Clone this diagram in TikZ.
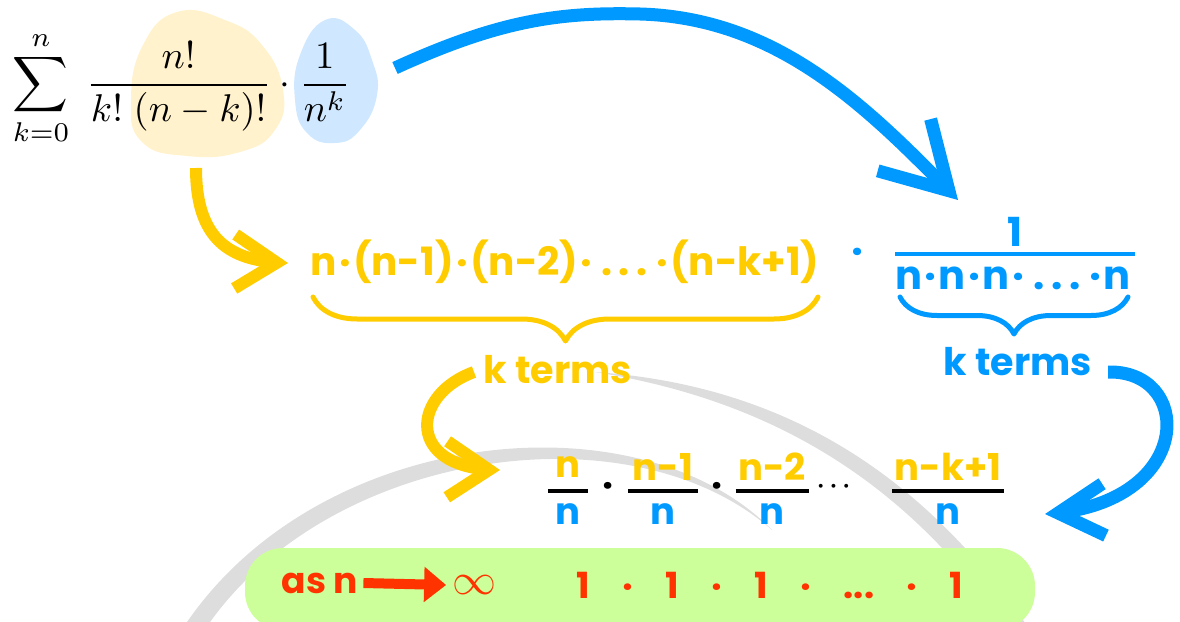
\documentclass[tikz,border=0pt]{standalone}
\usepackage[no-math]{fontspec}
\setmainfont{Poppins}
\usepackage{amsmath}
\usetikzlibrary{arrows.meta,bending,decorations.pathreplacing,positioning}

\definecolor{gelb}{RGB}{255,204,0}
\definecolor{blau}{RGB}{0,153,255}
\definecolor{rot}{RGB}{255,51,0}
\definecolor{hellgruen}{RGB}{204,255,153}
\definecolor{hellgelb}{RGB}{255,242,204}
\definecolor{hellblau}{RGB}{207,232,255}
\definecolor{bogengrau}{RGB}{221,221,221}

\newcommand{\md}{\hspace{0.06em}·\hspace{0.06em}}

\begin{document}
\begin{tikzpicture}[x=1pt, y=-1pt,
		gelbtext/.style={text=gelb, inner sep=0pt, font=\bfseries\fontsize{39}{45}\selectfont},
		blautext/.style={text=blau, inner sep=0pt, font=\bfseries\fontsize{40}{46}\selectfont},
		bruchtext/.style={inner sep=0pt, font=\bfseries\fontsize{37}{42}\selectfont},
		rottext/.style={text=rot, inner sep=0pt, font=\bfseries\fontsize{36}{42}\selectfont},
		klammer/.style={decorate, decoration={brace, mirror, amplitude=#1}, line width=5pt, line cap=round, line join=round},
		pfeil/.style={line width=13pt},
		kasten/.style={fill=hellgruen, rounded corners=38pt, minimum width=790pt, minimum height=82pt, inner sep=0pt}]
	%Bildbereich
	\path[use as bounding box, clip] (0,0) rectangle (1180,621);
	%graue Boegen
	\fill[bogengrau] (185,625) .. controls (320,425) and (640,395) .. (772,530) .. controls (630,405) and (330,450) .. (208,625) -- cycle;
	\fill[bogengrau] (595,372) .. controls (780,385) and (920,470) .. (1030,630) -- (1008,630) .. controls (905,480) and (770,400) .. (595,372) -- cycle;
	%Flecken hinter der Formel
	\fill[hellgelb] plot[smooth cycle, tension=0.8] coordinates {(177,12) (225,20) (262,45) (283,90) (275,130) (240,152) (187,156) (142,142) (131,100) (143,45)};
	\fill[hellblau] plot[smooth cycle, tension=0.8] coordinates {(325,20) (355,30) (372,60) (377,95) (360,130) (335,143) (307,133) (295,100) (300,55)};
	%Formel
	\node[anchor=west, inner sep=0pt, scale=3.87] (formel) at (12,88)
		{$\displaystyle\sum_{k=0}^{n}\;\frac{n!}{k!\;(n-k)!}\cdot\frac{1}{n^k}$};
	%Zeile mit k Faktoren
	\node[gelbtext] (zeile) at (565,262) {n\md(n-1)\md(n-2)\md\,.\,.\,.\,\md(n-k+1)};
	\node[blautext] (punkt) at (857,256) {·};
	\node[blautext] (eins) at (1015,232) {1};
	\node[blautext] (nenner) at (1013,278) {n\md n\md n\md\,.\,.\,.\,\md n};
	\draw[blau, line width=3.5pt] (895,254) -- (1135,254);
	%Klammern
	\draw[gelb, klammer=44pt] (313,297) -- (818,297);
	\draw[blau, klammer=37pt] (900,297) -- (1128,297);
	\node[gelbtext, font=\bfseries\fontsize{38}{44}\selectfont] (kgelb) at (558,370) {k terms};
	\node[blautext, font=\bfseries\fontsize{38}{44}\selectfont] (kblau) at (1018,362) {k terms};
	%Brueche
	\foreach \x/\z/\b [count=\i] in {568/n/40, 663/n-1/70, 772/n-2/73, 948/n-k+1/112}{
		\node[bruchtext, text=gelb] (zaehler\i) at (\x,467) {\z};
		\node[bruchtext, text=blau] (nenner\i) at (\x,514) {n};
		\draw[line width=4pt] (\x-\b/2,491) -- (\x+\b/2,491);
	}
	\node[bruchtext] (mal1) at (608,490) {·};
	\node[bruchtext] (mal2) at (717,490) {·};
	\node[bruchtext] (mal3) at (836,487) {$\boldsymbol{\cdots}$};
	%Kasten unten
	\node[kasten] (kasten) at (640,589) {};
	\node[rottext] (asn) at (320,583) {as n};
	\node[text=rot, inner sep=0pt, scale=4.4] (unend) at (474,585) {$\infty$};
	\draw[rot, line width=10pt, -{Triangle[length=22pt,width=34pt]}] ([xshift=5pt]asn.east) -- ([xshift=-5pt]unend.west);
	\node[rottext] (einsen) at (770,585) {1\hspace{0.9em}·\hspace{0.9em}1\hspace{0.9em}·\hspace{0.9em}1\hspace{0.9em}·\hspace{0.9em}...\hspace{0.9em}·\hspace{0.9em}1};
	%Pfeile
	\coordinate (start1) at (395,68);
	\coordinate (ziel1) at (958,200);
	\coordinate (start2) at (196,168);
	\coordinate (ziel2) at (288,263);
	\coordinate (start3) at (474,372);
	\coordinate (ziel3) at (500,470);
	\coordinate (start4) at (1108,372);
	\coordinate (ziel4) at (1045,514);
	\draw[blau, pfeil, -{Straight Barb[length=64pt,width=74pt]}] (start1) .. controls (500,20) and (560,12) .. (640,14) .. controls (780,18) and (870,110) .. (ziel1);
	\draw[gelb, pfeil, line width=12pt, -{Straight Barb[length=42pt,width=54pt]}] (start2) .. controls (196,240) and (230,262) .. (ziel2);
	\draw[gelb, pfeil, line width=12pt, -{Straight Barb[length=42pt,width=56pt]}] (start3) .. controls (410,395) and (405,470) .. (ziel3);
	\draw[blau, pfeil, -{Straight Barb[length=46pt,width=52pt]}] (start4) .. controls (1195,370) and (1195,505) .. (ziel4);
\end{tikzpicture}
\end{document}
